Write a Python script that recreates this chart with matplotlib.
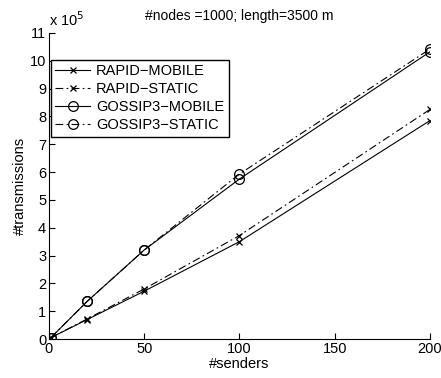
import matplotlib.pyplot as plt
from matplotlib.ticker import FuncFormatter

plt.rcParams['font.family'] = ['Liberation Sans', 'DejaVu Sans']

# datos (transmisiones en unidades de 1e5)
senders = [1, 20, 50, 100, 200]
rapid_mobile = [0.05, 0.70, 1.72, 3.50, 7.85]
rapid_static = [0.05, 0.72, 1.80, 3.72, 8.25]
gossip_mobile = [0.05, 1.35, 3.20, 5.75, 10.32]
gossip_static = [0.05, 1.35, 3.20, 5.93, 10.42]
scale = 1e5

fig = plt.figure(figsize=(4.41, 3.78), dpi=100)
ax = fig.add_axes([0.111, 0.103, 0.864, 0.81])

dd = (0, (7, 3, 1.5, 3))
ax.plot(senders, [v * scale for v in rapid_mobile], color='k', lw=0.8, ls='-',
        marker='x', ms=5, mew=0.9, label='RAPID\u2212MOBILE')
ax.plot(senders, [v * scale for v in rapid_static], color='k', lw=0.8, ls=dd,
        marker='x', ms=5, mew=0.9, label='RAPID\u2212STATIC')
ax.plot(senders, [v * scale for v in gossip_mobile], color='k', lw=0.8, ls='-',
        marker='o', ms=7, mfc='none', mew=0.9, label='GOSSIP3\u2212MOBILE')
ax.plot(senders, [v * scale for v in gossip_static], color='k', lw=0.8, ls=dd,
        marker='o', ms=7, mfc='none', mew=0.9, label='GOSSIP3\u2212STATIC')

ax.set_xlim(0, 200)
ax.set_ylim(0, 11 * scale)
ax.set_xticks([0, 50, 100, 150, 200])
ax.set_yticks([i * scale for i in range(12)])
ax.yaxis.set_major_formatter(FuncFormatter(lambda v, p: '%d' % round(v / scale)))
ax.spines['top'].set_visible(False)
ax.spines['right'].set_visible(False)
ax.tick_params(direction='in', length=4, width=0.8, labelsize=10.5, pad=2)
for s in ['left', 'bottom']:
    ax.spines[s].set_linewidth(0.8)

ax.set_xlabel('#senders', fontsize=10.5, labelpad=1)
ax.set_ylabel('#transmissions', fontsize=10.5)
ax.yaxis.set_label_coords(-0.058, 0.5)
ax.set_title('#nodes =1000; length=3500 m', fontsize=10, pad=9)
ax.text(0.0, 1.012, 'x 10$^5$', transform=ax.transAxes, fontsize=10.5,
        ha='left', va='bottom')

leg = ax.legend(loc='upper left', bbox_to_anchor=(0.005, 0.912), fontsize=10.5,
                fancybox=False, framealpha=1, edgecolor='k', handlelength=2.4,
                borderpad=0.3, labelspacing=0.28, handletextpad=0.4,
                borderaxespad=0)
leg.get_frame().set_linewidth(1.0)

fig.savefig('out.png', dpi=100)
